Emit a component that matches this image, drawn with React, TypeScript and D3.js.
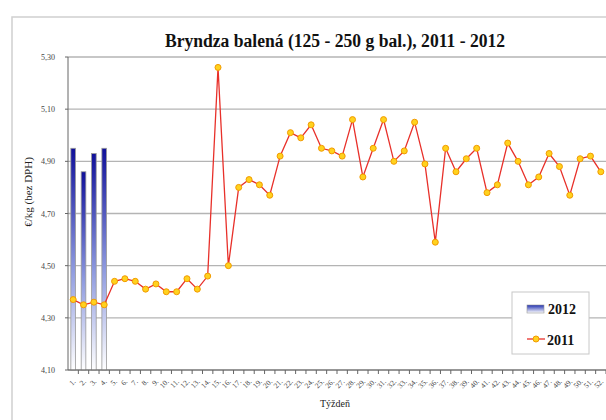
import React from "react";
import * as d3 from "d3";

const weeks: string[] = Array.from({ length: 52 }, (_, i) => `${i + 1}.`);

const values2012: number[] = [4.95, 4.86, 4.93, 4.95];

const values2011: number[] = [
  4.37, 4.35, 4.36, 4.35, 4.44, 4.45, 4.44, 4.41, 4.43, 4.4,
  4.4, 4.45, 4.41, 4.46, 5.26, 4.5, 4.8, 4.83, 4.81, 4.77,
  4.92, 5.01, 4.99, 5.04, 4.95, 4.94, 4.92, 5.06, 4.84, 4.95,
  5.06, 4.9, 4.94, 5.05, 4.89, 4.59, 4.95, 4.86, 4.91, 4.95,
  4.78, 4.81, 4.97, 4.9, 4.81, 4.84, 4.93, 4.88, 4.77, 4.91,
  4.92, 4.86,
];

const yTicks: number[] = [4.1, 4.3, 4.5, 4.7, 4.9, 5.1, 5.3];

const title = "Bryndza balená (125 - 250 g bal.), 2011 - 2012";
const yTitle = "€/kg (bez DPH)";
const xTitle = "Týždeň";
const seriesNames = ["2012", "2011"];

export default function App() {
  const W = 606;
  const H = 420;
  const left = 68;
  const right = 606;
  const top = 57;
  const bottom = 370;

  const x = d3.scaleBand<string>().domain(weeks).range([left, right]).padding(0);
  const y = d3.scaleLinear().domain([4.1, 5.3]).range([bottom, top]);
  const fmt = (v: number) => d3.format(".2f")(v).replace(".", ",");
  const bw = x.bandwidth();
  const barW = bw * 0.45;

  const line = d3
    .line<number>()
    .x((_, i) => (x(weeks[i]) as number) + bw / 2)
    .y((d) => y(d));

  const serif = { fontFamily: "'Liberation Serif'" };

  return (
    <svg
      width={W}
      height={H}
      style={{ position: "absolute", left: 0, top: 0, background: "#fff", fontFamily: "'Liberation Serif'" }}
    >
      <defs>
        <linearGradient id="barGrad" x1="0" y1="0" x2="0" y2="1">
          <stop offset="0%" stopColor="#10109a" />
          <stop offset="55%" stopColor="#8f9be0" />
          <stop offset="100%" stopColor="#ffffff" />
        </linearGradient>
        <linearGradient id="legGrad" x1="0" y1="0" x2="0" y2="1">
          <stop offset="0%" stopColor="#2030b0" />
          <stop offset="100%" stopColor="#ffffff" />
        </linearGradient>
      </defs>
      {/* chart frame */}
      <rect x={12} y={17} width={620} height={430} fill="#fff" stroke="#d0d0d0" strokeWidth={1.5} />

      <text
        x={165}
        y={47}
        fontSize={18}
        fontWeight="bold"
        fill="#111"
        textLength={340}
        lengthAdjust="spacingAndGlyphs"
        style={serif}
      >
        {title}
      </text>

      {/* gridlines */}
      {yTicks.map((t) => (
        <line key={"g" + t} x1={left} x2={right} y1={y(t)} y2={y(t)} stroke="#b4b4b4" strokeWidth={1.3} />
      ))}
      {/* y axis */}
      <line x1={left} x2={left} y1={top} y2={bottom} stroke="#666" strokeWidth={1} />
      {yTicks.map((t) => (
        <g key={"yt" + t}>
          <line x1={left - 3} x2={left} y1={y(t)} y2={y(t)} stroke="#666" />
          <text x={55} y={y(t) + 3} textAnchor="end" fontSize={8} fill="#444" style={serif}>
            {fmt(t)}
          </text>
        </g>
      ))}
      <text
        transform={`translate(32,192) rotate(-90)`}
        textAnchor="middle"
        fontSize={11}
        fill="#222"
        style={serif}
      >
        {yTitle}
      </text>

      {/* bars 2012 */}
      {values2012.map((v, i) => (
        <rect
          key={"b" + i}
          x={(x(weeks[i]) as number) + (bw - barW) / 2}
          y={y(v)}
          width={barW}
          height={y(4.1) - y(v)}
          fill="url(#barGrad)"
          stroke="#999"
          strokeWidth={0.8}
        />
      ))}

      {/* x axis */}
      <line x1={left} x2={right} y1={bottom} y2={bottom} stroke="#666" strokeWidth={1} />
      {weeks.map((w, i) => (
        <line
          key={"xt" + i}
          x1={(x(w) as number) + bw}
          x2={(x(w) as number) + bw}
          y1={bottom}
          y2={bottom + 4}
          stroke="#666"
        />
      ))}
      {weeks.map((w) => (
        <text
          key={"xl" + w}
          transform={`translate(${(x(w) as number) + bw / 2 + 3},${bottom + 12}) rotate(-45)`}
          textAnchor="end"
          fontSize={7.5}
          fill="#444"
          style={serif}
        >
          {w}
        </text>
      ))}
      <text x={335} y={407} textAnchor="middle" fontSize={10} fill="#222" style={serif}>
        {xTitle}
      </text>

      {/* line 2011 */}
      <path d={line(values2011) || ""} fill="none" stroke="#e8302a" strokeWidth={1.3} />
      {values2011.map((v, i) => (
        <circle
          key={"c" + i}
          cx={(x(weeks[i]) as number) + bw / 2}
          cy={y(v)}
          r={3}
          fill="#ffd21e"
          stroke="#f29a00"
          strokeWidth={1}
        />
      ))}

      {/* legend */}
      <rect x={512} y={292} width={77} height={62} fill="#fff" stroke="#c8c8c8" strokeWidth={1} />
      <rect x={527} y={305} width={17} height={8} fill="url(#legGrad)" stroke="#999" strokeWidth={0.6} />
      <text x={548} y={314} fontSize={14} fontWeight="bold" fill="#111" style={serif}>
        {seriesNames[0]}
      </text>
      <line x1={527} x2={545} y1={339} y2={339} stroke="#e8302a" strokeWidth={1.3} />
      <circle cx={536} cy={339} r={3} fill="#ffd21e" stroke="#f29a00" strokeWidth={1} />
      <text x={547} y={345} fontSize={14} fontWeight="bold" fill="#111" style={serif}>
        {seriesNames[1]}
      </text>
    </svg>
  );
}
